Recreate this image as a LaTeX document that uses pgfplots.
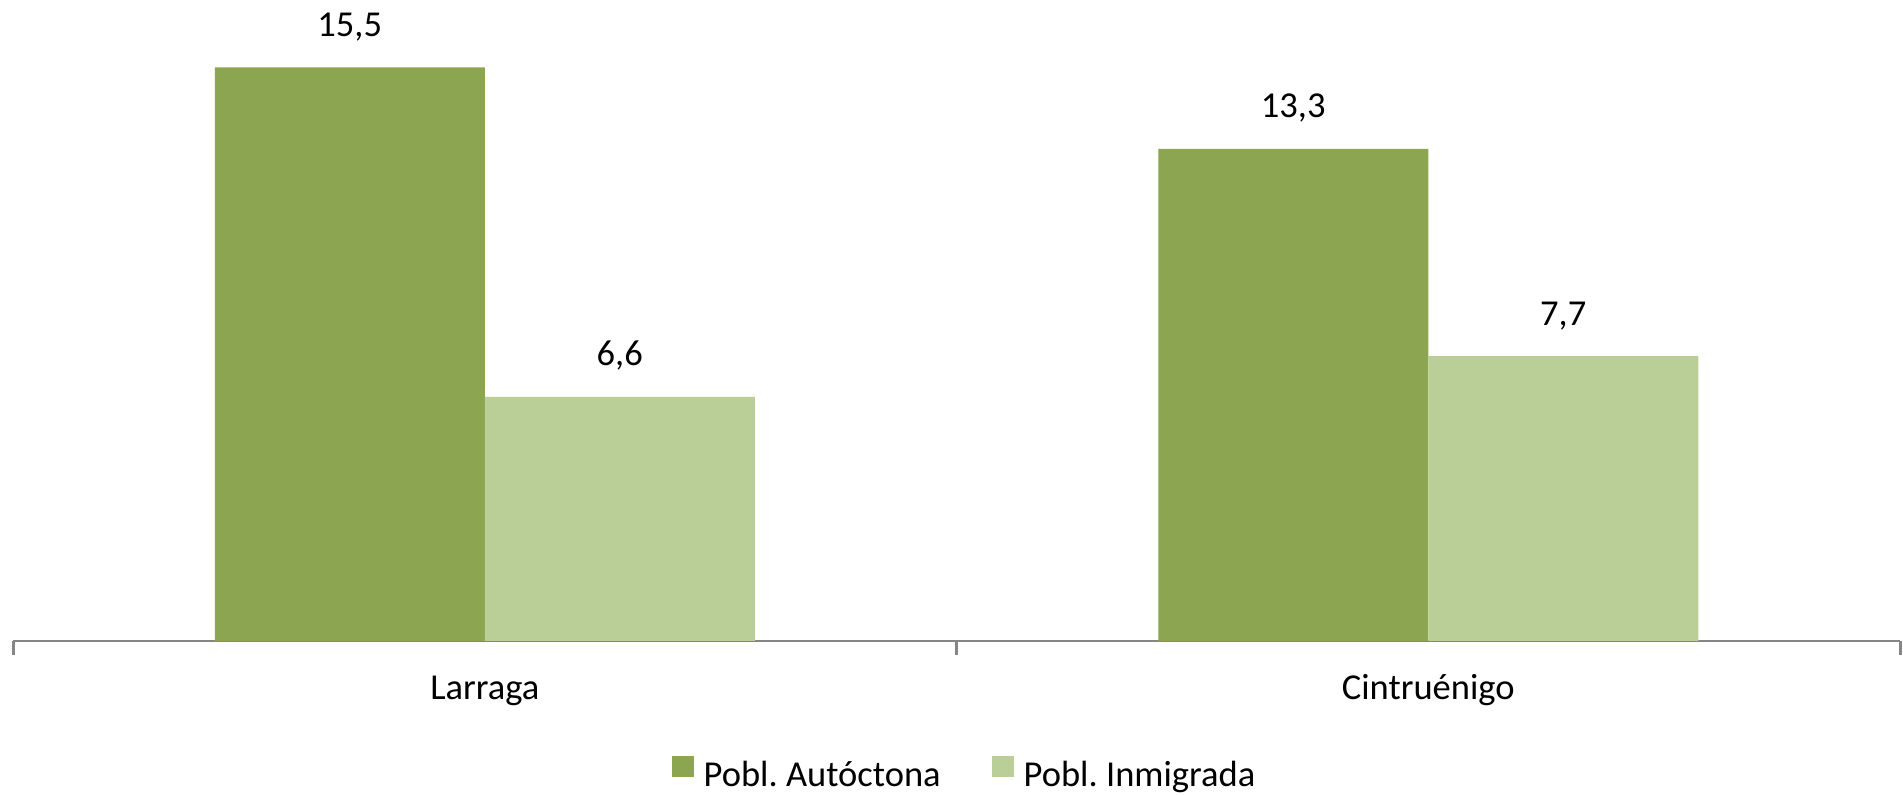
\documentclass[border=0pt]{standalone}
\usepackage{fontspec}
\setmainfont{Carlito}
\usepackage{pgfplots}
\pgfplotsset{compat=1.18}
\definecolor{autoc}{RGB}{139,165,80}
\definecolor{inmig}{RGB}{186,206,151}
\definecolor{axgray}{RGB}{134,134,134}
\begin{document}
\frenchspacing
\fontsize{18.25pt}{22pt}\selectfont
\begin{tikzpicture}
\useasboundingbox (-6.5pt,-77pt) rectangle (945pt,320.5pt);
\begin{axis}[
  at={(0pt,0pt)}, anchor=south west,
  scale only axis, width=943.5pt, height=320.5pt,
  xmin=-0.5, xmax=1.5, ymin=0, ymax=17.324,
  ybar=0pt, bar width=135pt,
  hide y axis,
  axis x line*=bottom,
  x axis line style={-, draw=axgray, line width=1.25pt},
  xtick={0,1}, xticklabels={Larraga,Cintruénigo},
  major tick length=0pt,
  tick align=outside,
  tick style={draw=axgray, line width=1.5pt},
  xticklabel style={anchor=base, yshift=-29.5pt, text=black, inner sep=0pt},
  extra x ticks={-0.5,0.5,1.5}, extra x tick labels={},
  extra x tick style={major tick length=7pt},
  nodes near coords,
  /pgf/number format/use comma,
  /pgf/number format/fixed,
  /pgf/number format/fixed zerofill,
  /pgf/number format/precision=1,
  /pgf/number format/assume math mode=true,
  every node near coord/.append style={anchor=base, yshift=15.5pt, inner sep=0pt, text=black},
  legend columns=-1,
  legend style={at={(0.5,0)}, anchor=north, yshift=-57.5pt, xshift=3.5pt, draw=none, inner sep=0pt,
    nodes={inner sep=0pt, text height=13pt, text depth=4pt},
    /tikz/every odd column/.append style={column sep=5pt},
    /tikz/every even column/.append style={column sep=25.5pt}},
  legend image code/.code={\fill[#1] (0pt,0pt) rectangle (11pt,10.5pt);},
]
\addplot[fill=autoc, draw=none] coordinates {(0,15.5) (1,13.3)};
\addplot[fill=inmig, draw=none] coordinates {(0,6.6) (1,7.7)};
\legend{Pobl. Autóctona, Pobl. Inmigrada}
\end{axis}
\end{tikzpicture}
\end{document}
